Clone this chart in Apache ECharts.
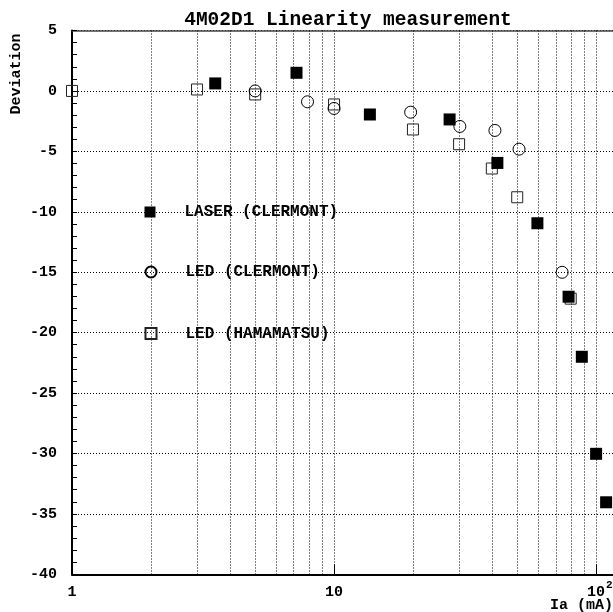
<!DOCTYPE html>
<html>
<head>
<meta charset="utf-8">
<script src="https://cdn.jsdelivr.net/npm/echarts@6/dist/echarts.min.js"></script>
<style>html,body{margin:0;padding:0;background:#fff}#c{width:613px;height:612px}</style>
</head>
<body>
<div id="c"></div>
<script>
// ---- data ----
const xMajorTicks = [1, 10, 100];
const xGridValues = [2, 3, 4, 5, 6, 7, 8, 9, 10, 20, 30, 40, 50, 60, 70, 80, 90, 100];
const laserX = [3.52, 7.19, 13.7, 27.6, 42.0, 59.7, 78.5, 88.2, 100, 109.2];
const laserY = [0.62, 1.50, -1.95, -2.36, -5.96, -10.95, -17.03, -22.0, -30.03, -34.04];
const ledClX = [5.0, 7.92, 10.0, 19.6, 30.2, 41.1, 50.8, 74.2];
const ledClY = [0, -0.90, -1.45, -1.76, -2.94, -3.27, -4.82, -15.01];
const ledHaX = [1, 3.0, 5.0, 10.0, 20.0, 30.0, 40.0, 50.0, 80.0];
const ledHaY = [0, 0.12, -0.29, -1.12, -3.19, -4.41, -6.42, -8.80, -17.19];
const seriesNames = ['LASER (CLERMONT)', 'LED (CLERMONT)', 'LED (HAMAMATSU)'];

const FONT = 'Liberation Mono';
const Y_MIN = -40, Y_MAX = 5;
const zip = (a, b) => a.map((v, i) => [v, b[i]]);

const chart = echarts.init(document.getElementById('c'), null, {renderer: 'canvas'});

const legendBase = {
  orient: 'vertical', left: 139.5, itemWidth: 11, itemHeight: 11,
  textStyle: {fontFamily: FONT, fontWeight: 'bold', fontSize: 16, color: '#000', padding: [0, 0, 0, 24]},
  selectedMode: false
};

chart.setOption({
  backgroundColor: '#fff',
  animation: false,
  title: {
    text: '4M02D1 Linearity measurement',
    left: 343, top: 5, textAlign: 'center',
    textStyle: {fontFamily: FONT, fontWeight: 'bold', fontSize: 19.5, color: '#000'}
  },
  legend: [
    Object.assign({}, legendBase, {top: 199, data: [seriesNames[0]]}),
    Object.assign({}, legendBase, {top: 259, data: [seriesNames[1]]}),
    Object.assign({}, legendBase, {top: 320.5, data: [seriesNames[2]]})
  ],
  graphic: [
    {type: 'text', rotation: Math.PI / 2,
     style: {text: 'Deviation', font: 'bold 15px "Liberation Mono"', fill: '#000', textAlign: 'center', textVerticalAlign: 'middle'},
     x: 16, y: 74},
    {type: 'text', right: 0, top: 598,
     style: {text: 'Ia (mA)', font: 'bold 15px "Liberation Mono"', fill: '#000'}}
  ],
  grid: {left: 72, right: 0, top: 30.5, bottom: 37.7},
  xAxis: [
    {type: 'log', logBase: 10, min: 1, max: 116,
     axisLine: {show: true, onZero: false, lineStyle: {color: '#000', width: 2}},
     axisTick: {show: false}, axisLabel: {show: false}, splitLine: {show: false}, minorTick: {show: false}},
    {type: 'log', logBase: 10, min: 1, max: 116, position: 'top',
     axisLine: {show: true, onZero: false, lineStyle: {color: '#444', width: 1.5}},
     axisTick: {show: false}, axisLabel: {show: false}, splitLine: {show: false}}
  ],
  yAxis: {
    type: 'value', min: Y_MIN, max: Y_MAX, interval: 5,
    axisLine: {show: true, onZero: false, lineStyle: {color: '#000', width: 2}},
    axisTick: {show: true, inside: true, length: 5, lineStyle: {color: '#000', width: 1}},
    minorTick: {show: true, splitNumber: 5, length: 5, lineStyle: {color: '#000', width: 1}},
    axisLabel: {fontFamily: FONT, fontWeight: 'bold', fontSize: 15, color: '#000', margin: 15},
    splitLine: {show: true, lineStyle: {color: '#000', width: 1, type: [1, 2]}}
  },
  series: [
    {
      type: 'custom', name: 'grid', silent: true, z: 1, clip: false,
      data: xGridValues.map(v => [v, Y_MIN]),
      renderItem: function (params, api) {
        const v = api.value(0);
        const top = api.coord([v, Y_MAX]);
        const bot = api.coord([v, Y_MIN]);
        const children = [{
          type: 'line',
          shape: {x1: Math.round(bot[0]) + 0.5, y1: top[1], x2: Math.round(bot[0]) + 0.5, y2: bot[1]},
          style: {stroke: '#000', lineWidth: 1, lineDash: [1, 2]}
        }];
        if (xMajorTicks.indexOf(v) >= 0) {
          children.push({
            type: 'line',
            shape: {x1: Math.round(bot[0]) + 0.5, y1: bot[1], x2: Math.round(bot[0]) + 0.5, y2: bot[1] - 10},
            style: {stroke: '#000', lineWidth: 1}
          });
        }
        return {type: 'group', children: children};
      }
    },
    {
      type: 'custom', name: 'xlabels', silent: true, z: 1, clip: false,
      data: xMajorTicks.map(v => [v, Y_MIN]),
      renderItem: function (params, api) {
        const v = api.value(0);
        const p = api.coord([v, Y_MIN]);
        const exp = Math.round(Math.log10(v));
        const children = [];
        if (exp < 2) {
          children.push({type: 'text', x: p[0], y: p[1] + 18,
            style: {text: String(v), font: 'bold 15px "Liberation Mono"', fill: '#000', textAlign: 'center', textVerticalAlign: 'middle'}});
        } else {
          children.push({type: 'text', x: p[0], y: p[1] + 18,
            style: {text: '10', font: 'bold 15px "Liberation Mono"', fill: '#000', textAlign: 'center', textVerticalAlign: 'middle'}});
          children.push({type: 'text', x: p[0] + 10, y: p[1] + 11,
            style: {text: String(exp), font: 'bold 11px "Liberation Mono"', fill: '#000', textAlign: 'left', textVerticalAlign: 'middle'}});
        }
        return {type: 'group', children: children};
      }
    },
    {
      type: 'scatter', name: seriesNames[2], z: 3,
      symbol: 'rect', symbolSize: 11,
      itemStyle: {opacity: 1, color: 'rgba(255,255,255,0)', borderColor: '#222', borderWidth: 1},
      data: zip(ledHaX, ledHaY)
    },
    {
      type: 'scatter', name: seriesNames[1], z: 4,
      symbol: 'circle', symbolSize: 12,
      itemStyle: {opacity: 1, color: 'rgba(255,255,255,0)', borderColor: '#000', borderWidth: 1},
      data: zip(ledClX, ledClY)
    },
    {
      type: 'scatter', name: seriesNames[0], z: 5,
      symbol: 'rect', symbolSize: 12,
      itemStyle: {opacity: 1, color: '#000', borderColor: '#000', borderWidth: 0},
      data: zip(laserX, laserY)
    }
  ]
});
</script>
</body>
</html>
